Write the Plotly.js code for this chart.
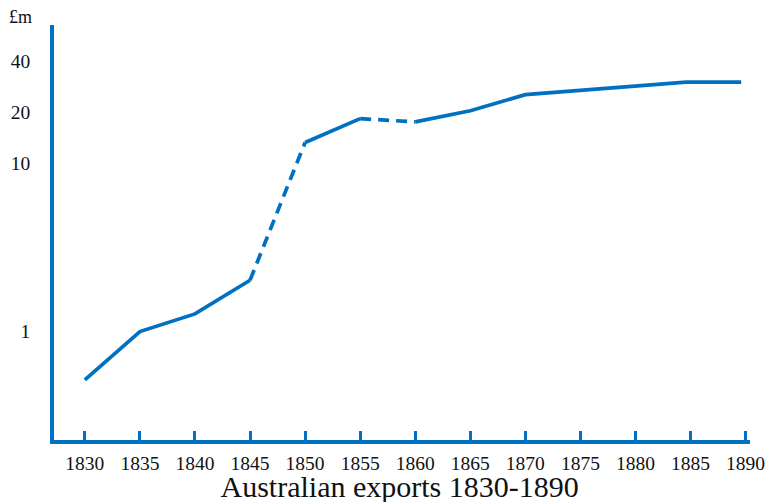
<!DOCTYPE html>
<html>
<head>
<meta charset="utf-8">
<script src="https://cdn.plot.ly/plotly-3.0.1.min.js"></script>
<style>html,body{margin:0;padding:0;background:#fff;}#chart{width:773px;height:502px;}</style>
</head>
<body>
<div id="chart"></div>
<script>
// Data (exports, £ million, log scale)
const years   = [1830, 1835, 1840, 1845, 1850, 1855, 1860, 1865, 1870, 1884.6, 1889.6];
const exportsM = [0.51, 0.99, 1.26, 2.0, 13.2, 18.3, 17.5, 20.4, 25.4, 30.2, 30.2];
// Segment styles between consecutive points (dashed = uncertain data)
const segStyle = ['solid','solid','solid','dash','solid','dash','solid','solid','solid','solid'];
const xTicks = [1830,1835,1840,1845,1850,1855,1860,1865,1870,1875,1880,1885,1890];
const yTicks = [1, 10, 20, 40];

const BLUE = '#0070C0';
const traces = [];
let i = 0;
while (i < segStyle.length) {
  let j = i;
  while (j + 1 < segStyle.length && segStyle[j + 1] === segStyle[i]) j++;
  traces.push({
    x: years.slice(i, j + 2),
    y: exportsM.slice(i, j + 2),
    type: 'scatter', mode: 'lines',
    line: {color: BLUE, width: 3.7, dash: segStyle[i] === 'dash' ? '11px,7px' : 'solid'},
    hoverinfo: 'skip', showlegend: false
  });
  i = j + 1;
}

const FAM = 'Liberation Serif, Times New Roman, serif';
const f = (s) => ({family: FAM, size: s, color: '#111'});
const layout = {
  width: 773, height: 502,
  margin: {l: 54, r: 23, t: 25, b: 62},
  paper_bgcolor: '#fff', plot_bgcolor: '#fff',
  font: f(19),
  showlegend: false,
  title: {text: 'Australian exports 1830-1890', x: 0.517, xanchor: 'center', y: 0.03, yanchor: 'middle',
          font: f(30)},
  xaxis: {
    range: [1827.2, 1890.4], tickvals: xTicks, ticktext: xTicks.map(String),
    showgrid: false, zeroline: false, showline: true, linecolor: BLUE, linewidth: 3.5,
    ticks: 'inside', ticklen: 9, tickwidth: 3, tickcolor: BLUE,
    tickfont: f(19.5), ticklabelstandoff: 3
  },
  yaxis: {
    type: 'log', range: [Math.log10(0.224), Math.log10(66)],
    tickvals: yTicks, ticktext: yTicks.map(String),
    showgrid: false, zeroline: false, showline: true, linecolor: BLUE, linewidth: 3.5,
    ticks: '', tickfont: f(19.5), ticklabelstandoff: 16
  },
  annotations: [{
    text: '£m', xref: 'paper', yref: 'paper', x: (20 - 54) / 696, y: (440 - 17) / 415,
    xanchor: 'center', yanchor: 'middle', showarrow: false, font: f(18)
  }]
};
Plotly.newPlot('chart', traces, layout, {displayModeBar: false});
</script>
</body>
</html>
